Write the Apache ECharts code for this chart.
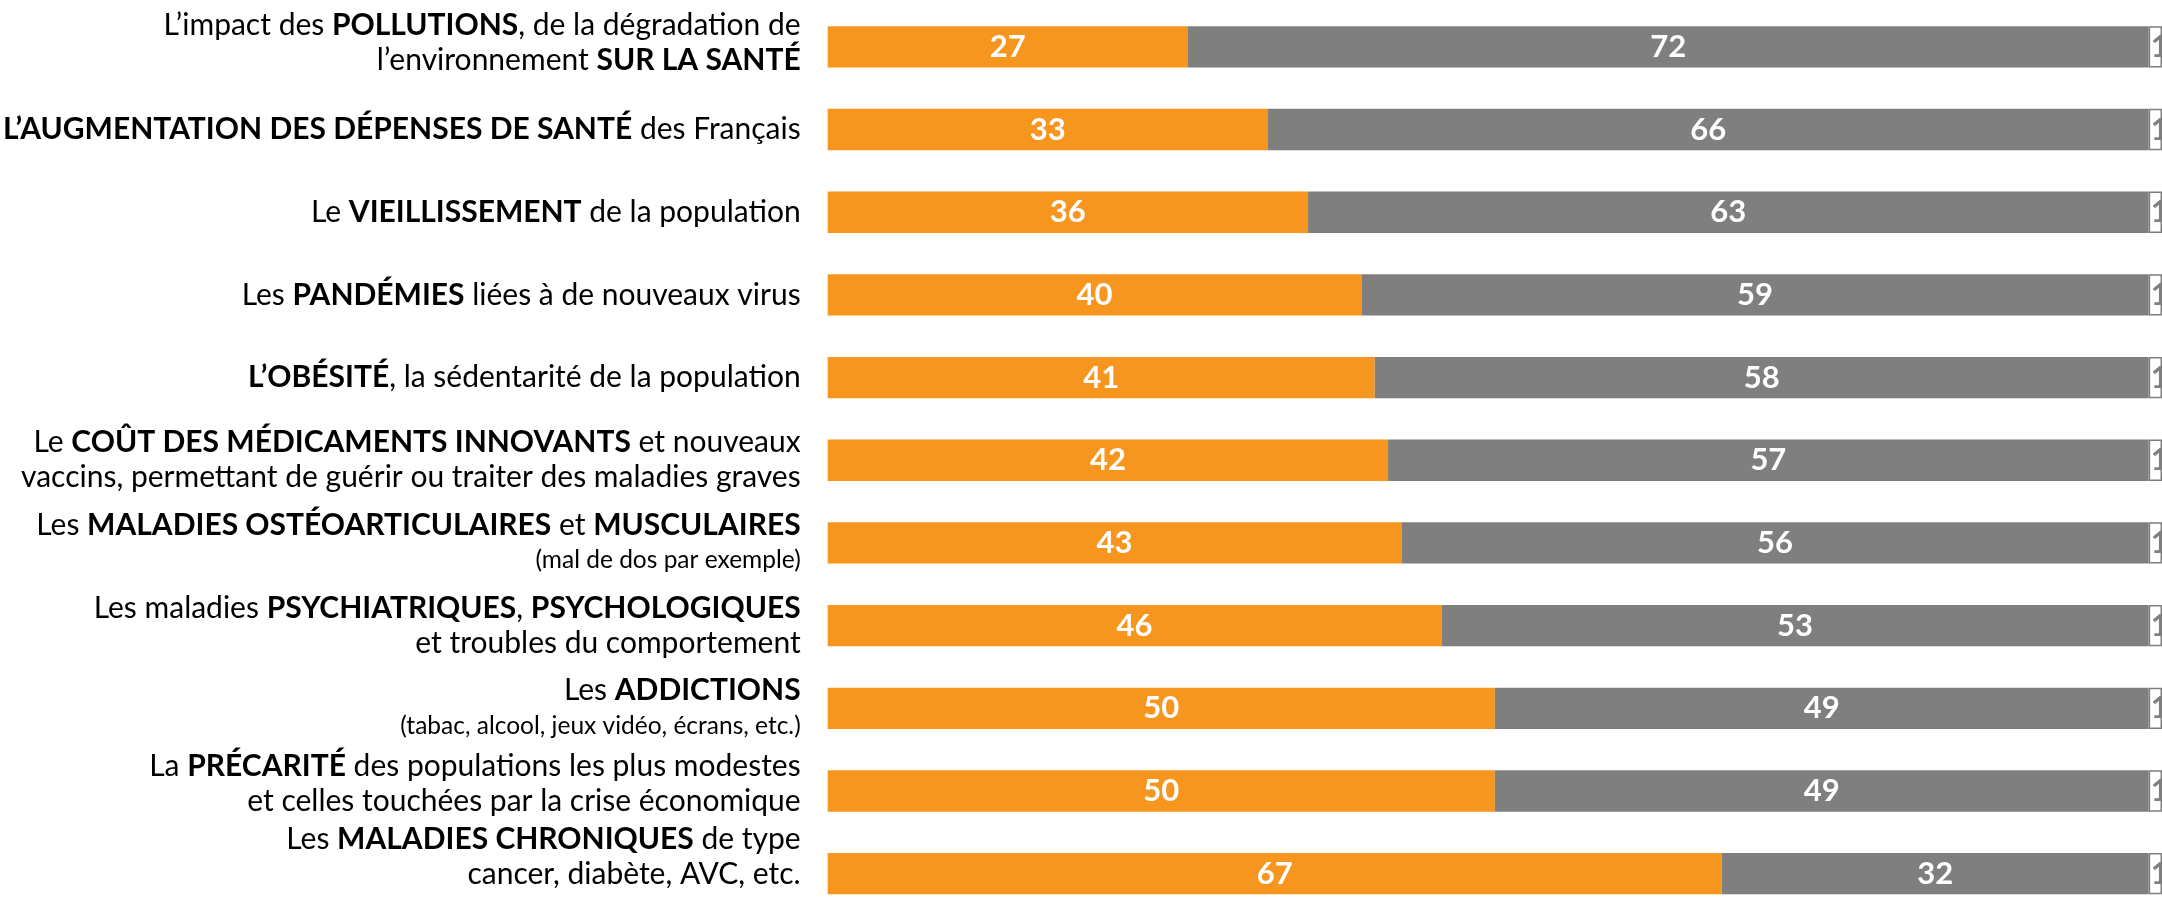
<!DOCTYPE html>
<html><head><meta charset="utf-8">
<script src="https://cdn.jsdelivr.net/npm/echarts@6/dist/echarts.min.js"></script>
<style>html,body{margin:0;padding:0;background:#fff}#c{width:2162px;height:915px}</style>
</head><body><div id="c"></div>
<script>
const categories = [
  "L’impact des **POLLUTIONS**, de la dégradation de\nl’environnement **SUR LA SANTÉ**",
  "**L’AUGMENTATION DES DÉPENSES DE SANTÉ** des Français",
  "Le **VIEILLISSEMENT** de la population",
  "Les **PANDÉMIES** liées à de nouveaux virus",
  "**L’OBÉSITÉ**, la sédentarité de la population",
  "Le **COÛT DES MÉDICAMENTS INNOVANTS** et nouveaux\nvaccins, permettant de guérir ou traiter des maladies graves",
  "Les **MALADIES OSTÉOARTICULAIRES** et **MUSCULAIRES**\n(mal de dos par exemple)",
  "Les maladies **PSYCHIATRIQUES**, **PSYCHOLOGIQUES**\net troubles du comportement",
  "Les **ADDICTIONS**\n(tabac, alcool, jeux vidéo, écrans, etc.)",
  "La **PRÉCARITÉ** des populations les plus modestes\net celles touchées par la crise économique",
  "Les **MALADIES CHRONIQUES** de type\ncancer, diabète, AVC, etc."
];
const orangeValues = [27, 33, 36, 40, 41, 42, 43, 46, 50, 50, 67];
const grayValues   = [72, 66, 63, 59, 58, 57, 56, 53, 49, 49, 32];
const otherValues  = [1, 1, 1, 1, 1, 1, 1, 1, 1, 1, 1];

// layout only: upward shift (px) of some category labels, as in the original text boxes
const labelLift = [4, 0, 0, 0, 0, 0, 0, 0, 0, 7, 17];

const FONT = 'Lato';
function toRich(s) {
  return s.split('\n').map(line => {
    const small = line.startsWith('(');
    const parts = line.split('**');
    return parts.map((p, i) => {
      if (!p) return '';
      const st = small ? 's' : (i % 2 === 1 ? 'b' : 'n');
      return '{' + st + '|' + p + '}';
    }).join('');
  }).join('\n');
}

const yData = categories.map((c, i) => labelLift[i]
  ? {value: c, textStyle: {padding: [0, 0, 2 * labelLift[i], 0]}}
  : c);

const chart = echarts.init(document.getElementById('c'), null, {renderer: 'canvas'});
const valLabel = {show: true, position: 'inside', color: '#fff', fontFamily: FONT, fontWeight: 'bold', fontSize: 31};
chart.setOption({
  animation: false,
  grid: {left: 817, right: -3, top: 5.5, bottom: -13.5, containLabel: false},
  xAxis: {type: 'value', min: 0, max: 100, show: false},
  yAxis: {
    type: 'category', inverse: true, data: yData,
    axisLine: {show: false}, axisTick: {show: false}, splitLine: {show: false},
    axisLabel: {
      margin: 27, align: 'right',
      formatter: v => toRich(v),
      rich: {
        n: {fontFamily: FONT, fontSize: 30, color: '#000', lineHeight: 35},
        b: {fontFamily: FONT, fontSize: 30, color: '#000', fontWeight: 'bold', lineHeight: 35},
        s: {fontFamily: FONT, fontSize: 24.5, color: '#000', lineHeight: 36}
      }
    }
  },
  series: [
    {name: 'Oui', type: 'bar', stack: 't', barWidth: '50%', data: orangeValues,
     itemStyle: {color: '#F7961F'}, label: valLabel},
    {name: 'Non', type: 'bar', stack: 't', data: grayValues,
     itemStyle: {color: '#7F7F7F'}, label: valLabel},
    {name: 'NSP', type: 'bar', stack: 't', data: otherValues,
     itemStyle: {color: '#fff', borderColor: '#7F7F7F', borderWidth: 1.5},
     label: {show: true, position: 'insideLeft', distance: 2, color: '#7F7F7F', fontFamily: FONT, fontWeight: 'bold', fontSize: 31}}
  ]
});
</script></body></html>
